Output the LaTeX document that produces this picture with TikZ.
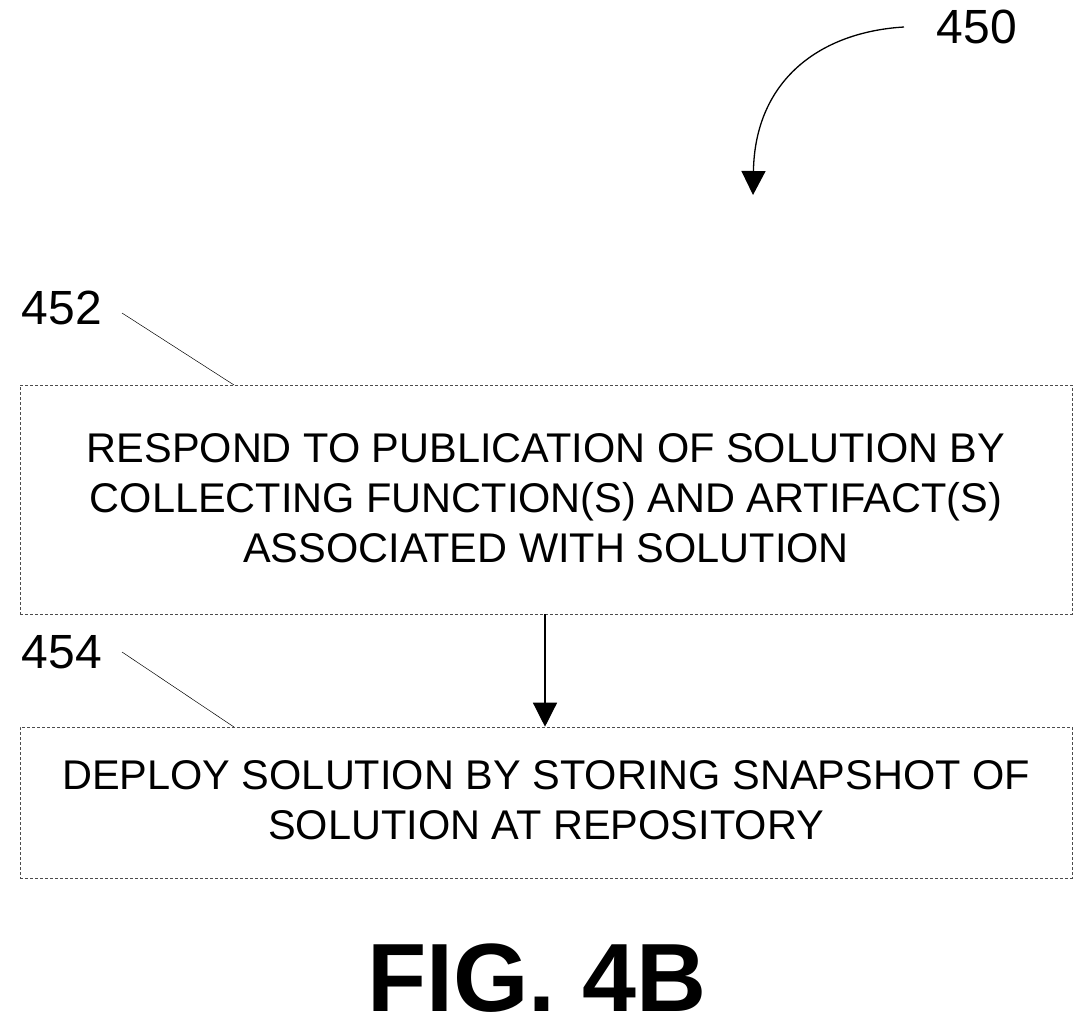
\documentclass[tikz,border=0pt]{standalone}
\usepackage{fontspec}
\setmainfont{Liberation Sans}
\usetikzlibrary{arrows.meta}
\begin{document}
\begin{tikzpicture}[x=1pt,y=-1pt,
  boxst/.style={draw=black!70,densely dashed,line width=0.6pt,inner sep=0pt},
  btext/.style={font=\fontsize{41.5}{50}\selectfont,align=center},
  refl/.style={font=\fontsize{48}{50}\selectfont},
  lead/.style={draw,line width=0.5pt},
  arr/.style={draw,line width=1.3pt,-{Triangle[length=24pt,width=24pt]}}]
\useasboundingbox (0,0) rectangle (1092,1034);
\node[boxst,minimum width=1052pt,minimum height=229pt] (b1) at (546,499.5) {};
\node[btext] (t1) at (546,498) {RESPOND TO PUBLICATION OF SOLUTION BY\\COLLECTING FUNCTION(S) AND ARTIFACT(S)\\ASSOCIATED WITH SOLUTION};
\node[boxst,minimum width=1052pt,minimum height=151pt] (b2) at (546,802.5) {};
\node[btext] (t2) at (546,800) {DEPLOY SOLUTION BY STORING SNAPSHOT OF\\SOLUTION AT REPOSITORY};
\draw[arr] (b1.south -| 545,0) -- (b2.north -| 545,0);
\node[refl] (r452) at (62,308) {452};
\node[refl] (r454) at (62,652) {454};
\node[refl] (r450) at (977,27) {450};
\coordinate (c452) at (234,385);
\coordinate (c454) at (234,727);
\draw[lead] (122,313) -- (c452);
\draw[lead] (122,652) -- (c454);
\coordinate (s450) at (904,27);
\coordinate (e450) at (753,195);
\draw[arr] (s450) .. controls (820,32) and (755,80) .. (e450);
\node[font=\bfseries\fontsize{97}{100}\selectfont] (fig) at (537,978) {FIG. 4B};
\end{tikzpicture}
\end{document}
